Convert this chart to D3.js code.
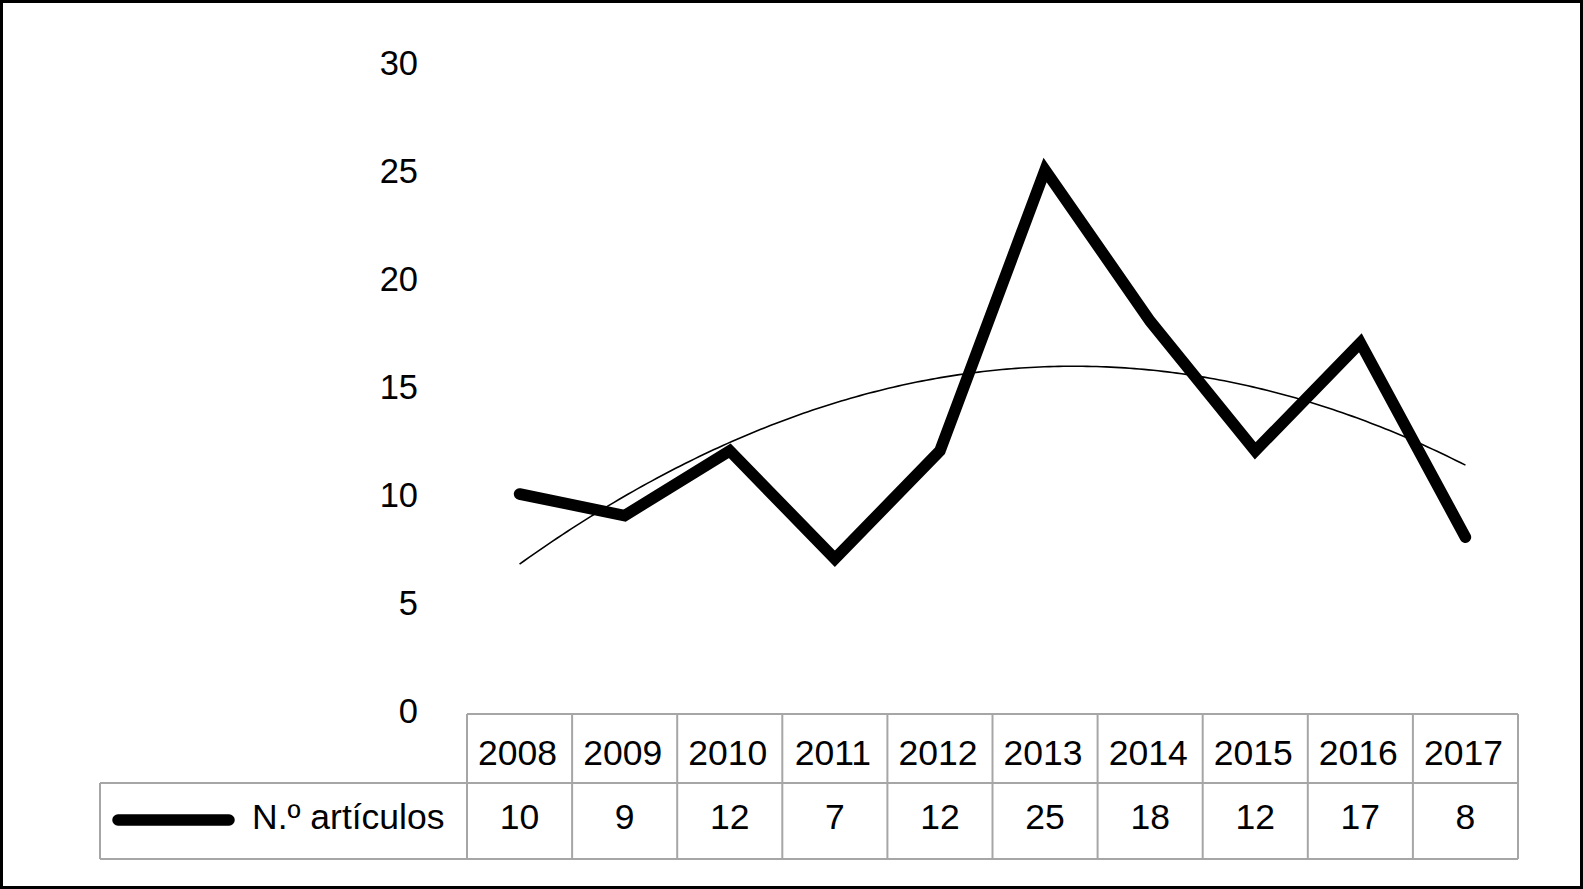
<!DOCTYPE html>
<html><head><meta charset="utf-8">
<script src="https://cdn.jsdelivr.net/npm/d3@7"></script>
<style>html,body{margin:0;padding:0;background:#fff}svg{display:block}</style>
</head><body>
<script>
const years = ["2008","2009","2010","2011","2012","2013","2014","2015","2016","2017"];
const articulos = [10, 9, 12, 7, 12, 25, 18, 12, 17, 8];
const yTicks = [0, 5, 10, 15, 20, 25, 30];
const seriesName = "N.º artículos";

const W = 1583, H = 889;
const svg = d3.select("body").append("svg").attr("width", W).attr("height", H);
const font = "'Liberation Sans', Arial, Helvetica, sans-serif";
const fs = 35.5;

svg.append("rect").attr("x", 1.5).attr("y", 1.5).attr("width", W - 3).attr("height", H - 3)
  .attr("fill", "#fff").attr("stroke", "#000").attr("stroke-width", 3);

const x = d3.scaleBand().domain(years).range([467, 1518]).padding(0);
const y = d3.scaleLinear().domain([0, 30]).range([710, 62]);
const cx = d => x(d) + x.bandwidth() / 2;

// Y axis
const yAxis = d3.axisLeft(y).tickValues(yTicks).tickSize(0).tickPadding(0);
const gy = svg.append("g").attr("transform", "translate(418,0)").call(yAxis);
gy.select(".domain").remove();
gy.selectAll("text").attr("font-family", font).attr("font-size", 34.5).attr("fill", "#000").attr("dy", "0.35em");

// Polynomial (order 2) trendline from data via least squares
const n = articulos.length;
const xs = articulos.map((_, i) => i + 1);
const mx = d3.mean(xs);
const ts = xs.map(v => v - mx);
const St2 = d3.sum(ts, t => t * t), St4 = d3.sum(ts, t => t ** 4);
const Sy = d3.sum(articulos), Sty = d3.sum(ts, (t, i) => t * articulos[i]), St2y = d3.sum(ts, (t, i) => t * t * articulos[i]);
const b = Sty / St2;
const c = (St2y - St2 * Sy / n) / (St4 - St2 * St2 / n);
const a = (Sy - c * St2) / n;
const trendX = d3.scaleLinear().domain([ts[0], ts[n - 1]]).range([cx(years[0]), cx(years[n - 1])]);
const trendPts = d3.range(0, 201).map(k => {
  const t = ts[0] + (ts[n - 1] - ts[0]) * k / 200;
  return [trendX(t), y(a + b * t + c * t * t)];
});
svg.append("path").attr("d", d3.line()(trendPts)).attr("fill", "none").attr("stroke", "#000").attr("stroke-width", 1.6);

// Main line
const line = d3.line().x((d, i) => cx(years[i])).y(d => y(d));
svg.append("path").datum(articulos).attr("d", line).attr("fill", "none")
  .attr("stroke", "#000").attr("stroke-width", 11.5).attr("stroke-linecap", "round").attr("stroke-linejoin", "miter");

// Data table
const tTop = 714, tMid = 783, tBot = 859, legLeft = 100;
const grid = "#a6a6a6";
const tg = svg.append("g").attr("stroke", grid).attr("stroke-width", 2).attr("fill", "none");
tg.append("line").attr("x1", x.range()[0]).attr("x2", x.range()[1]).attr("y1", tTop).attr("y2", tTop);
tg.append("line").attr("x1", legLeft).attr("x2", x.range()[1]).attr("y1", tMid).attr("y2", tMid);
tg.append("line").attr("x1", legLeft).attr("x2", x.range()[1]).attr("y1", tBot).attr("y2", tBot);
tg.append("line").attr("x1", legLeft).attr("x2", legLeft).attr("y1", tMid).attr("y2", tBot);
const edges = years.map(d => x(d)).concat([x.range()[1]]);
tg.selectAll("line.v").data(edges).join("line").attr("class", "v")
  .attr("x1", d => d).attr("x2", d => d).attr("y1", tTop).attr("y2", tBot);

svg.append("g").selectAll("text").data(years).join("text")
  .attr("x", d => cx(d) - 2).attr("y", (tTop + tMid) / 2 + 4).attr("dy", "0.35em")
  .attr("text-anchor", "middle").attr("font-family", font).attr("font-size", fs).attr("fill", "#000")
  .text(d => d);
svg.append("g").selectAll("text").data(articulos).join("text")
  .attr("x", (d, i) => cx(years[i])).attr("y", (tMid + tBot) / 2 - 4).attr("dy", "0.35em")
  .attr("text-anchor", "middle").attr("font-family", font).attr("font-size", fs).attr("fill", "#000")
  .text(d => d);

// Legend key in table
const legY = (tMid + tBot) / 2 - 1;
svg.append("line").attr("x1", 118).attr("x2", 229).attr("y1", legY).attr("y2", legY)
  .attr("stroke", "#000").attr("stroke-width", 11.5).attr("stroke-linecap", "round");
svg.append("text").attr("x", 252).attr("y", legY - 3).attr("dy", "0.35em")
  .attr("font-family", font).attr("font-size", fs).attr("fill", "#000").text(seriesName);
</script>
</body></html>
